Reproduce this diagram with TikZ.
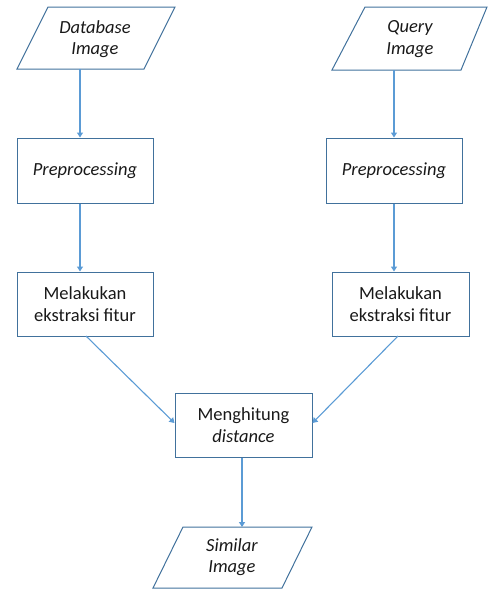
\documentclass[tikz,border=0pt]{standalone}
\usepackage{fontspec}
\setmainfont{Carlito}
\usetikzlibrary{arrows.meta,calc}
\definecolor{boxline}{HTML}{41719C}
\definecolor{arrline}{HTML}{5B9BD5}
\begin{document}
\begin{tikzpicture}[x=1pt,y=-1pt,
  every node/.style={font=\fontsize{18.5}{21.5}\selectfont, align=center, inner sep=0pt, text=black!90},
  procbox/.style={draw=boxline, line width=1pt, rectangle},
  iobox/.style={draw=boxline, line width=1pt, line join=miter},
  arr/.style={draw=arrline, line width=1.1pt, -{Triangle[length=5pt,width=6pt]}}]
\useasboundingbox (0,0) rectangle (490,590);
% input/output parallelograms
\draw[iobox] (48,7) -- (175,7) -- (144,69) -- (17,69) -- cycle;
\node (db) at (95,39) {\itshape Database\\\itshape Image};
\coordinate (dbb) at (80,69);
\draw[iobox] (365,7) -- (487,7) -- (461,70) -- (332,70) -- cycle;
\node (q) at (410,39) {\itshape Query\\\itshape Image};
\coordinate (qb) at (394,70);
\draw[iobox] (183,527) -- (312,527) -- (282,588) -- (153,588) -- cycle;
\node (sim) at (232,557) {\itshape Similar\\\itshape Image};
\coordinate (simt) at (242,527);
% process boxes
\node[procbox, minimum width=136pt, minimum height=65pt] (pre1) at (85,170.5) {\itshape Preprocessing};
\node[procbox, minimum width=136pt, minimum height=65pt] (pre2) at (394,170.5) {\itshape Preprocessing};
\node[procbox, minimum width=136pt, minimum height=64pt] (ext1) at (85,304) {Melakukan\\ekstraksi fitur};
\node[procbox, minimum width=137pt, minimum height=64pt] (ext2) at (400.5,304) {Melakukan\\ekstraksi fitur};
\node[procbox, minimum width=137pt, minimum height=64pt] (dist) at (243.5,425) {Menghitung\\\itshape distance};
% connectors
\draw[arr] (dbb) -- (dbb |- pre1.north);
\draw[arr] (qb) -- (qb |- pre2.north);
\draw[arr] (pre1.south -| dbb) -- (dbb |- ext1.north);
\draw[arr] (pre2.south -| qb) -- (qb |- ext2.north);
\coordinate (e1b) at (86,336);
\coordinate (e2b) at (398,336);
\draw[arr] (e1b) -- (dist.west |- 0,423);
\draw[arr] (e2b) -- (dist.east |- 0,423);
\draw[arr] (dist.south -| simt) -- (simt);
\end{tikzpicture}
\end{document}
